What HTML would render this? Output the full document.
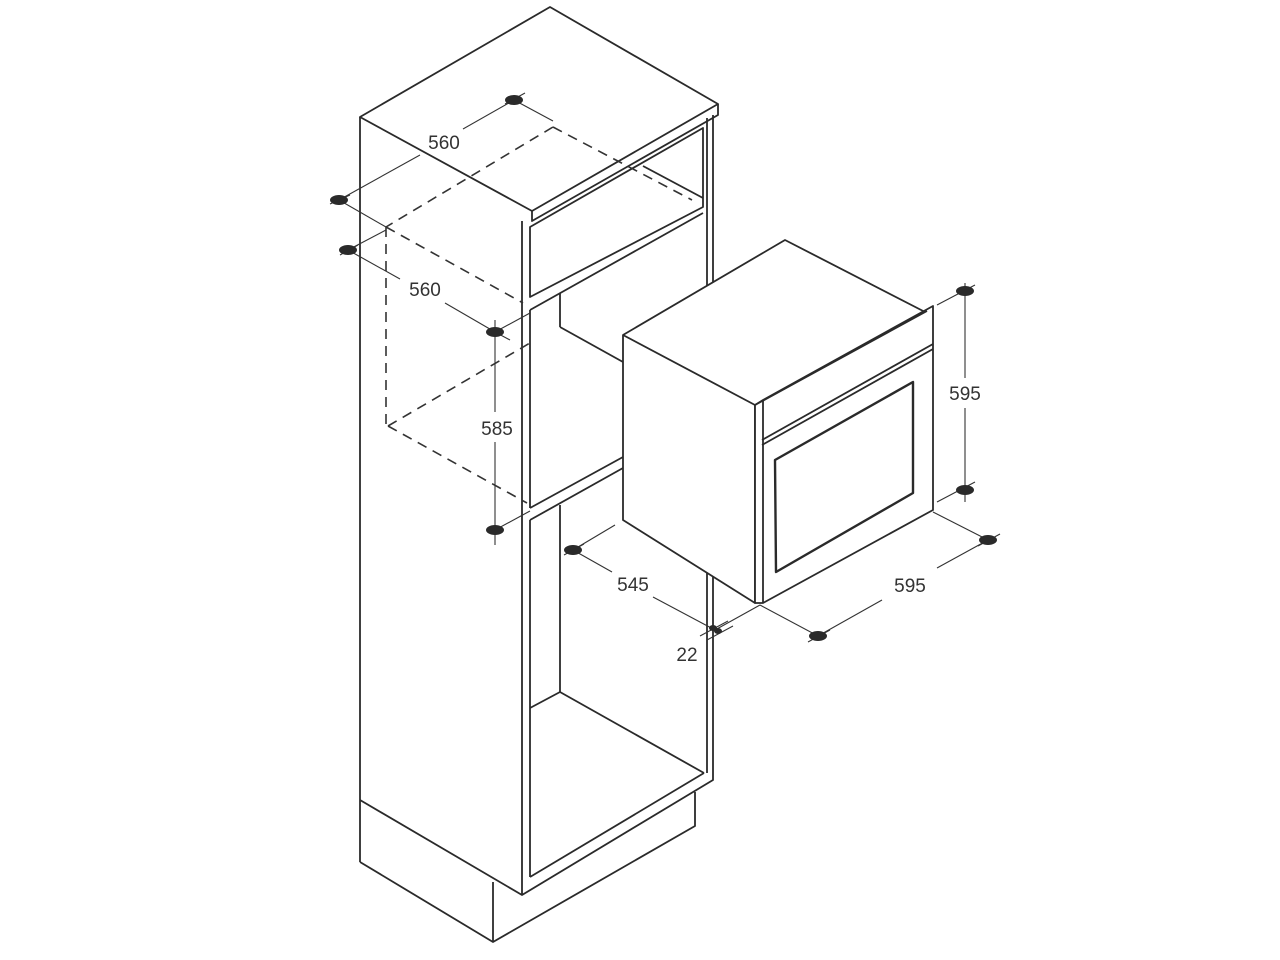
<!DOCTYPE html>
<html><head><meta charset="utf-8"><style>
html,body{margin:0;padding:0;background:#fff;}
svg{display:block}
text{font-family:"Liberation Sans",sans-serif;font-size:19px;fill:#333;text-anchor:middle}
</style></head><body>
<svg width="1280" height="960" viewBox="0 0 1280 960" xmlns="http://www.w3.org/2000/svg">
<g fill="none" stroke="#2a2a2a" stroke-width="1.8" stroke-linejoin="round">
<!-- cabinet top slab -->
<polygon points="360,117 550,7 718,104 532,211" fill="#fff"/>
<polyline points="718,104 718,115 532,221 532,211"/>
<!-- left side -->
<line x1="360" y1="117" x2="360" y2="862"/>
<line x1="360" y1="800" x2="522" y2="895"/>
<polyline points="360,862 493,942 695,826 695,792"/>
<line x1="493" y1="882" x2="493" y2="942"/>
<!-- front frame -->
<polyline points="522,221 522,895 713,780 713,115"/>
<polyline points="707,118 707,773"/>
<!-- upper panel -->
<polygon points="530,227 703,128 703,207 530,297"/>
<line x1="643" y1="166" x2="703" y2="198"/>
<!-- middle opening -->
<polyline points="530,310 703,213"/>
<line x1="530" y1="310" x2="530" y2="508"/>
<line x1="560" y1="293" x2="560" y2="327"/>
<line x1="560" y1="327" x2="623" y2="362"/>
<polyline points="530,508 623,457"/>
<polyline points="530,520 623,468"/>
<!-- lower opening -->
<line x1="530" y1="520" x2="530" y2="877"/>
<line x1="560" y1="505" x2="560" y2="692"/>
<polyline points="530,708 560,692 704,773"/>
<line x1="530" y1="877" x2="704" y2="773"/>
<!-- oven -->
<polygon points="623,335 785,240 927,313 755,405 755,603 623,520" fill="#fff"/>
<line x1="755" y1="405" x2="623" y2="335"/>
<polygon points="755,405 763,400 933,306 933,510 763,603 755,603" fill="#fff"/>
<line x1="763" y1="400" x2="763" y2="603"/>
<line x1="755" y1="405" x2="927" y2="311"/>
<line x1="762" y1="440" x2="933" y2="344"/>
<line x1="762" y1="445" x2="933" y2="349"/>
<polygon points="775,460 913,382 913,493 776,572" stroke-width="2.4"/>
</g>
<!-- dashed -->
<g fill="none" stroke="#333" stroke-width="1.6" stroke-dasharray="10,7">
<line x1="553" y1="127" x2="386" y2="227"/>
<line x1="553" y1="127" x2="692" y2="200"/>
<line x1="386" y1="227" x2="523" y2="303"/>
<line x1="386" y1="227" x2="386" y2="426"/>
<line x1="388" y1="426" x2="530" y2="343"/>
<line x1="388" y1="426" x2="527" y2="503"/>
</g>
<!-- dimension lines -->
<g stroke="#333" stroke-width="1.1" fill="none">
<line x1="514" y1="100" x2="463" y2="129"/><line x1="420" y1="155" x2="339" y2="200"/>
<line x1="514" y1="100" x2="553" y2="121"/>
<line x1="339" y1="200" x2="386" y2="227"/>
<line x1="348" y1="250" x2="386" y2="230"/>
<line x1="348" y1="250" x2="400" y2="279"/><line x1="445" y1="303" x2="495" y2="332"/>
<line x1="495" y1="332" x2="530" y2="313"/><line x1="495" y1="332" x2="510" y2="340"/>
<line x1="495" y1="320" x2="495" y2="412"/><line x1="495" y1="442" x2="495" y2="545"/>
<line x1="495" y1="530" x2="530" y2="511"/>
<line x1="573" y1="550" x2="615" y2="525"/>
<line x1="573" y1="550" x2="612" y2="572"/><line x1="653" y1="597" x2="715" y2="630"/>
<line x1="715" y1="630" x2="760" y2="605"/>
<line x1="760" y1="605" x2="818" y2="636"/>
<line x1="818" y1="636" x2="882" y2="600"/><line x1="937" y1="568" x2="988" y2="540"/>
<line x1="933" y1="512" x2="988" y2="540"/>
<line x1="965" y1="283" x2="965" y2="378"/><line x1="965" y1="408" x2="965" y2="502"/>
<line x1="937" y1="305" x2="975" y2="285"/><line x1="937" y1="502" x2="975" y2="482"/>
<line x1="707" y1="640" x2="733" y2="626"/><line x1="700" y1="636" x2="728" y2="621"/>
<line x1="330" y1="204" x2="350" y2="195"/><line x1="505" y1="104" x2="525" y2="93"/>
<line x1="340" y1="255" x2="358" y2="245"/><line x1="564" y1="555" x2="584" y2="544"/>
<line x1="808" y1="642" x2="830" y2="630"/><line x1="978" y1="546" x2="1000" y2="534"/>
</g>
<g fill="#2a2a2a">
<ellipse cx="514" cy="100" rx="9" ry="5"/>
<ellipse cx="339" cy="200" rx="9" ry="5"/>
<ellipse cx="348" cy="250" rx="9" ry="5"/>
<ellipse cx="495" cy="332" rx="9" ry="5"/>
<ellipse cx="495" cy="530" rx="9" ry="5"/>
<ellipse cx="573" cy="550" rx="9" ry="5"/>
<ellipse cx="713" cy="628" rx="4" ry="3"/>
<ellipse cx="718" cy="631" rx="4" ry="3"/>
<ellipse cx="818" cy="636" rx="9" ry="5"/>
<ellipse cx="988" cy="540" rx="9" ry="5"/>
<ellipse cx="965" cy="291" rx="9" ry="5"/>
<ellipse cx="965" cy="490" rx="9" ry="5"/>
</g>
<text x="444" y="149">560</text>
<text x="425" y="296">560</text>
<text x="497" y="435">585</text>
<text x="633" y="591">545</text>
<text x="687" y="661">22</text>
<text x="910" y="592">595</text>
<text x="965" y="400">595</text>
</svg>
</body></html>
